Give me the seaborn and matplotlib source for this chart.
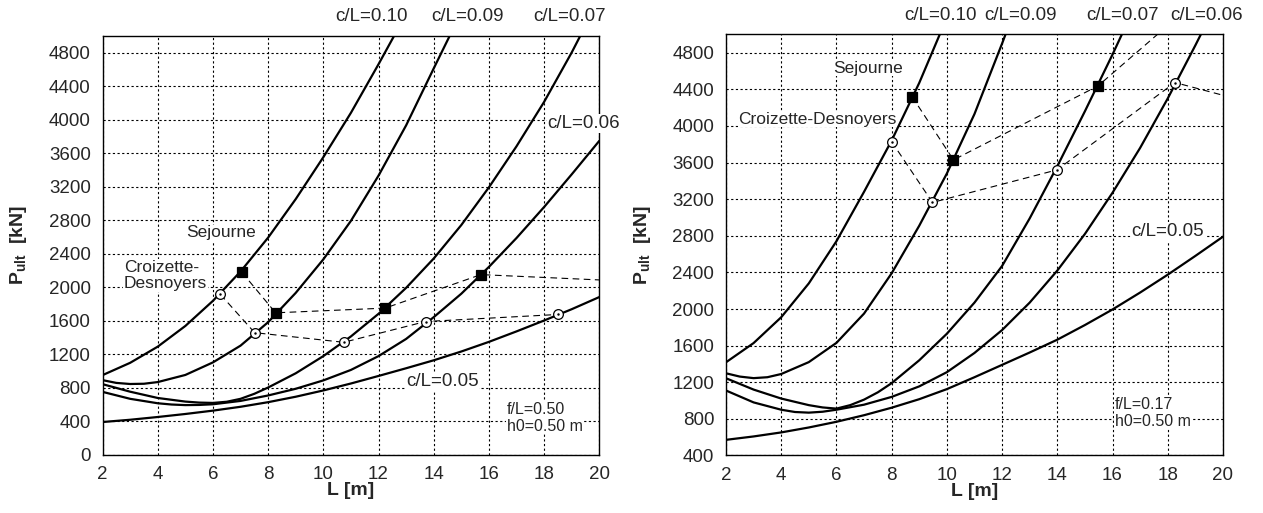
import matplotlib.pyplot as plt
import matplotlib.ticker as mticker
import seaborn as sns

# ---- left panel: f/L = 0.50 ----
LEFT_L_010 = [2, 3, 4, 5, 6, 7, 8, 9, 10, 11, 12, 12.6]
LEFT_P_010 = [948, 1095, 1288, 1535, 1835, 2185, 2590, 3050, 3550, 4080, 4660, 5020]
LEFT_L_009 = [2, 2.5, 3, 3.5, 4, 5, 6, 7, 8, 9, 10, 11, 12, 13, 14, 14.7]
LEFT_P_009 = [888, 855, 842, 845, 865, 950, 1100, 1300, 1580, 1930, 2330, 2790,
              3330, 3930, 4610, 5080]
LEFT_L_007 = [2, 3, 4, 5, 5.5, 6, 6.5, 7, 7.5, 8, 9, 10, 11, 12, 13, 14, 15, 16,
              17, 18, 19, 19.5]
LEFT_P_007 = [840, 750, 675, 632, 620, 616, 630, 665, 725, 800, 970, 1175, 1410,
              1680, 1990, 2340, 2740, 3190, 3680, 4210, 4800, 5120]
LEFT_L_006 = [2, 3, 4, 4.5, 5, 5.5, 6, 7, 8, 9, 10, 11, 12, 13, 14, 15, 16, 17,
              18, 19, 20]
LEFT_P_006 = [748, 665, 612, 597, 590, 592, 600, 640, 705, 785, 885, 1010, 1175,
              1380, 1640, 1920, 2240, 2585, 2955, 3345, 3745]
LEFT_L_005 = [2, 3, 4, 5, 6, 7, 8, 9, 10, 11, 12, 13, 14, 15, 16, 17, 18, 19, 20]
LEFT_P_005 = [388, 415, 448, 484, 524, 570, 625, 690, 765, 848, 938, 1030, 1125,
              1230, 1345, 1470, 1600, 1735, 1880]
LEFT_SEJ_L = [7.05, 8.27, 12.24, 15.71, 22.0]
LEFT_SEJ_P = [2175, 1692, 1748, 2148, 2055]
LEFT_CRO_L = [6.27, 7.51, 10.74, 13.71, 18.5]
LEFT_CRO_P = [1912, 1455, 1340, 1588, 1672]

# ---- right panel: f/L = 0.17 ----
RIGHT_L_010 = [2, 3, 4, 5, 6, 7, 8, 9, 9.8]
RIGHT_P_010 = [1418, 1628, 1910, 2280, 2740, 3280, 3840, 4470, 5040]
RIGHT_L_009 = [2, 2.5, 3, 3.5, 4, 5, 6, 7, 8, 9, 10, 11, 12, 12.2]
RIGHT_P_009 = [1298, 1262, 1245, 1255, 1290, 1420, 1630, 1950, 2390, 2910, 3480,
               4130, 4900, 5060]
RIGHT_L_007 = [2, 3, 4, 5, 5.5, 6, 6.5, 7, 7.5, 8, 9, 10, 11, 12, 13, 14, 15, 16,
               16.4]
RIGHT_P_007 = [1244, 1120, 1022, 950, 925, 912, 950, 1010, 1090, 1190, 1440, 1730,
               2070, 2470, 2990, 3560, 4160, 4780, 5040]
RIGHT_L_006 = [2, 3, 4, 4.5, 5, 5.5, 6, 7, 8, 9, 10, 11, 12, 13, 14, 15, 16, 17,
               18, 19, 19.3]
RIGHT_P_006 = [1110, 980, 900, 875, 868, 878, 900, 955, 1040, 1155, 1310, 1520,
               1770, 2070, 2420, 2820, 3270, 3760, 4300, 4880, 5060]
RIGHT_L_005 = [2, 3, 4, 5, 6, 7, 8, 9, 10, 11, 12, 13, 14, 15, 16, 17, 18, 19, 20]
RIGHT_P_005 = [571, 608, 652, 706, 768, 840, 922, 1015, 1125, 1255, 1390, 1525,
               1665, 1825, 1995, 2180, 2375, 2580, 2790]
RIGHT_SEJ_L = [8.74, 10.24, 15.47, 20.5]
RIGHT_SEJ_P = [4320, 3629, 4436, 5750]
RIGHT_CRO_L = [8.0, 9.48, 13.99, 18.26, 22.0]
RIGHT_CRO_P = [3828, 3164, 3520, 4474, 4175]

TOP_LABELS = ["c/L=0.10", "c/L=0.09", "c/L=0.07", "c/L=0.06"]
LEFT_TOP_X = [11.76, 15.22, 18.94]
RIGHT_TOP_X = [9.76, 12.67, 16.35, 19.4]

sns.set_theme(style="white")
plt.rcParams["font.family"] = ["Liberation Sans", "DejaVu Sans"]
plt.rcParams["mathtext.fontset"] = "custom"
plt.rcParams["mathtext.rm"] = "Liberation Sans"
plt.rcParams["mathtext.bf"] = "Liberation Sans:bold"

BOX = dict(facecolor="white", edgecolor="none", pad=0.5)


def draw_panel(ax, curves, sej, cro, ymin, ylabel_x):
    for x, y in curves:
        sns.lineplot(x=x, y=y, ax=ax, color="black", linewidth=1.6,
                     estimator=None, sort=False)

    for (x, y), face in ((sej, "black"), (cro, "white")):
        ax.plot(x, y, color="black", linewidth=0.8, dashes=(6, 4), zorder=3)
        marker = "s" if face == "black" else "o"
        ax.plot(x, y, linestyle="none", marker=marker, markersize=7,
                markerfacecolor=face, markeredgecolor="black",
                markeredgewidth=0.9, zorder=4)
    ax.plot(cro[0], cro[1], linestyle="none", marker=".", markersize=1.5,
            color="black", zorder=5)

    ax.set_xlim(2, 20)
    ax.set_ylim(ymin, 5000)
    ax.xaxis.set_major_locator(mticker.MultipleLocator(2))
    ax.xaxis.set_minor_locator(mticker.MultipleLocator(0.5))
    ax.yaxis.set_major_locator(mticker.MultipleLocator(400))
    ax.yaxis.set_minor_locator(mticker.MultipleLocator(100))
    ax.grid(True, which="major", color="black", linewidth=0.8,
            linestyle=(0, (2, 2.2)))
    ax.tick_params(which="both", direction="in", top=False, right=False,
                   labelsize=13.5, pad=8.5, color="black", width=0.8)
    ax.tick_params(which="major", length=5)
    ax.tick_params(which="minor", length=3)
    for spine in ax.spines.values():
        spine.set_color("black")
        spine.set_linewidth(1.0)

    ax.set_xlabel("L [m]", fontsize=14, fontweight="bold")
    ax.set_ylabel(r"$\mathbf{P_{ult}}$  [kN]", fontsize=14, fontweight="bold")
    ax.xaxis.set_label_coords(0.5, -0.066)
    ax.yaxis.set_label_coords(ylabel_x, 0.5)


fig = plt.figure(figsize=(12.63, 5.13), dpi=100)
ax1 = fig.add_axes([0.0812, 0.1140, 0.3933, 0.8163])
ax2 = fig.add_axes([0.5748, 0.1121, 0.3935, 0.8209])

draw_panel(
    ax1,
    [(LEFT_L_010, LEFT_P_010), (LEFT_L_009, LEFT_P_009), (LEFT_L_007, LEFT_P_007),
     (LEFT_L_006, LEFT_P_006), (LEFT_L_005, LEFT_P_005)],
    (LEFT_SEJ_L, LEFT_SEJ_P), (LEFT_CRO_L, LEFT_CRO_P), 0, -0.148,
)
draw_panel(
    ax2,
    [(RIGHT_L_010, RIGHT_P_010), (RIGHT_L_009, RIGHT_P_009), (RIGHT_L_007, RIGHT_P_007),
     (RIGHT_L_006, RIGHT_P_006), (RIGHT_L_005, RIGHT_P_005)],
    (RIGHT_SEJ_L, RIGHT_SEJ_P), (RIGHT_CRO_L, RIGHT_CRO_P), 400, -0.147,
)

# labels of the left panel
ax1.text(5.03, 2645, "Sejourne", fontsize=12.5, ha="left", va="center", bbox=BOX)
ax1.text(2.77, 2140, "Croizette-\nDesnoyers", fontsize=12.5, ha="left", va="center",
         linespacing=1.1, bbox=BOX)
ax1.text(13.0, 869, "c/L=0.05", fontsize=13.5, ha="left", va="center", bbox=BOX)
ax1.text(18.12, 3955, "c/L=0.06", fontsize=13.5, ha="left", va="center",
         bbox=BOX, clip_on=False)
ax1.text(16.65, 437, "f/L=0.50\nh0=0.50 m", fontsize=11.5, ha="left", va="center",
         linespacing=1.15, bbox=BOX)
for x, label in zip(LEFT_TOP_X, TOP_LABELS[:3]):
    ax1.text(x, 1.047, label, fontsize=13.5, ha="center", va="center",
             transform=ax1.get_xaxis_transform())

# labels of the right panel
ax2.text(5.89, 4632, "Sejourne", fontsize=12.5, ha="left", va="center", bbox=BOX)
ax2.text(2.45, 4075, "Croizette-Desnoyers", fontsize=12.5, ha="left", va="center",
         bbox=BOX)
ax2.text(16.68, 2846, "c/L=0.05", fontsize=13.5, ha="left", va="center", bbox=BOX)
ax2.text(16.09, 865, "f/L=0.17\nh0=0.50 m", fontsize=11.5, ha="left", va="center",
         linespacing=1.15, bbox=BOX)
for x, label in zip(RIGHT_TOP_X, TOP_LABELS):
    ax2.text(x, 1.044, label, fontsize=13.5, ha="center", va="center",
             transform=ax2.get_xaxis_transform(), clip_on=False)

fig.savefig("out.png", dpi=100)
